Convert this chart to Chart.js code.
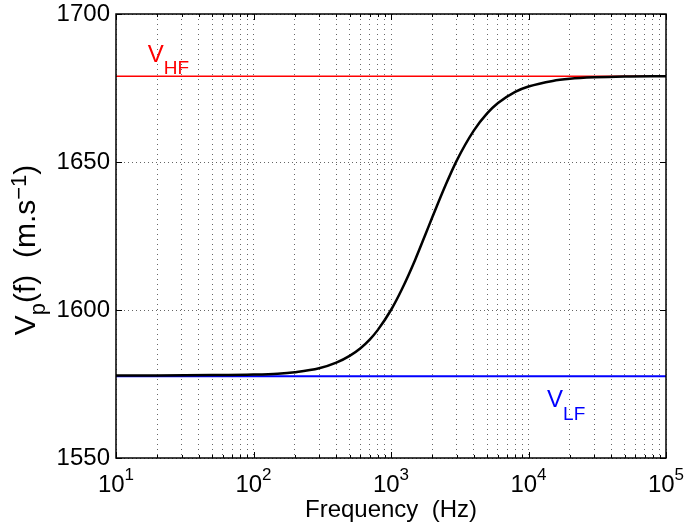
<!DOCTYPE html>
<html>
<head>
<meta charset="utf-8">
<script src="https://cdn.jsdelivr.net/npm/chart.js@4.4.0/dist/chart.umd.min.js"></script>
<style>
body { margin: 0; background: #fff; }
#wrap { width: 684px; height: 529px; }
</style>
</head>
<body>
<div id="wrap"><canvas id="vpChart" width="684" height="529"></canvas></div>
<script>
// values
const freqHz = [10, 20, 50, 100, 150, 200, 300, 400, 500, 600, 700, 800, 1000, 1200, 1500, 1800, 2000, 2500, 3000, 4000, 5000, 6000, 8000, 10000, 15000, 20000, 30000, 50000, 100000];
const vpCurve = [1577.9, 1577.9, 1578.0, 1578.2, 1578.5, 1579.0, 1580.3, 1582.2, 1584.5, 1587.1, 1590.0, 1593.2, 1600.0, 1607.0, 1617.0, 1626.1, 1631.4, 1642.3, 1650.4, 1660.6, 1666.4, 1669.9, 1673.7, 1675.5, 1677.4, 1678.1, 1678.6, 1678.9, 1679.0];
const vHF = 1679.0;
const vLF = 1577.6;
const xRange = [10, 100000];
const yRange = [1550, 1700];
const xDecades = [10, 100, 1000, 10000, 100000];
const xExponents = ['1', '2', '3', '4', '5'];
const hfLabelAt = [17, 1683.8];
const lfLabelAt = [13650, 1567.2];

const FONT = "'Liberation Sans', Arial, Helvetica, sans-serif";

// draw text made of pieces with their own size and vertical shift (sub/superscripts)
function richText(ctx, parts, x, y, align, color) {
    ctx.fillStyle = color || '#000';
    ctx.textBaseline = 'alphabetic';
    ctx.textAlign = 'left';
    let w = 0;
    parts.forEach(function(p) {
        ctx.font = p[1] + 'px ' + FONT;
        w += ctx.measureText(p[0]).width;
    });
    let cx = align === 'center' ? x - w / 2 : x;
    parts.forEach(function(p) {
        ctx.font = p[1] + 'px ' + FONT;
        ctx.fillText(p[0], cx, y + p[2]);
        cx += ctx.measureText(p[0]).width;
    });
}

const matlabAxes = {
    id: 'matlabAxes',
    afterDraw: function(chart) {
        const ctx = chart.ctx;
        const a = chart.chartArea;
        const xs = chart.scales.x;
        const ys = chart.scales.y;
        ctx.save();

        // inside tick marks
        ctx.strokeStyle = '#000';
        ctx.lineWidth = 1;
        xs.ticks.forEach(function(t) {
            const px = Math.round(xs.getPixelForValue(t.value)) + 0.5;
            const len = t.major ? 6 : 3;
            ctx.beginPath();
            ctx.moveTo(px, a.bottom); ctx.lineTo(px, a.bottom - len);
            ctx.moveTo(px, a.top); ctx.lineTo(px, a.top + len);
            ctx.stroke();
        });
        ys.ticks.forEach(function(t) {
            const py = Math.round(ys.getPixelForValue(t.value)) + 0.5;
            ctx.beginPath();
            ctx.moveTo(a.left, py); ctx.lineTo(a.left + 6, py);
            ctx.moveTo(a.right, py); ctx.lineTo(a.right - 6, py);
            ctx.stroke();
        });

        // box
        ctx.lineWidth = 1.5;
        ctx.strokeRect(a.left, a.top, a.right - a.left, a.bottom - a.top);

        // x tick labels 10^n
        xDecades.forEach(function(d, i) {
            const px = xs.getPixelForValue(d);
            richText(ctx, [['10', 24, 0], [xExponents[i], 17, -12]], px, 492, 'center');
        });

        // axis titles
        richText(ctx, [['Frequency  (Hz)', 24, 0]], (a.left + a.right) / 2, 517, 'center');
        ctx.save();
        ctx.translate(35, 250);
        ctx.rotate(-Math.PI / 2);
        richText(ctx, [['V', 30, 0], ['p', 22, 10], ['(f)  (m.s', 30, 0], ['\u22121', 22, -9], [')', 30, 0]], 0, 0, 'center');
        ctx.restore();

        // level labels
        richText(ctx, [['V', 24, 0], ['HF', 19, 12]], xs.getPixelForValue(hfLabelAt[0]), ys.getPixelForValue(hfLabelAt[1]), 'left', '#ff0000');
        richText(ctx, [['V', 24, 0], ['LF', 19, 13]], xs.getPixelForValue(lfLabelAt[0]), ys.getPixelForValue(lfLabelAt[1]), 'left', '#0000ff');

        ctx.restore();
    }
};

const ctx = document.getElementById('vpChart').getContext('2d');
new Chart(ctx, {
    type: 'line',
    data: {
        datasets: [{
            label: 'Vp(f)',
            data: freqHz.map(function(f, i) { return { x: f, y: vpCurve[i] }; }),
            borderColor: '#000000',
            borderWidth: 2.5,
            pointRadius: 0,
            cubicInterpolationMode: 'monotone',
            fill: false
        }, {
            label: 'VLF',
            data: [{ x: xRange[0], y: vLF }, { x: xRange[1], y: vLF }],
            borderColor: '#0000ff',
            borderWidth: 2,
            pointRadius: 0,
            fill: false
        }, {
            label: 'VHF',
            data: [{ x: xRange[0], y: vHF }, { x: xRange[1], y: vHF }],
            borderColor: '#ff0000',
            borderWidth: 1.5,
            pointRadius: 0,
            fill: false
        }]
    },
    options: {
        responsive: false,
        animation: false,
        events: [],
        layout: { padding: { top: 14, right: 18, left: 0, bottom: 0 } },
        plugins: {
            legend: { display: false },
            tooltip: { enabled: false }
        },
        scales: {
            x: {
                type: 'logarithmic',
                min: xRange[0],
                max: xRange[1],
                afterBuildTicks: function(scale) {
                    const t = [];
                    xDecades.forEach(function(d) {
                        for (let m = 1; m <= 9; m++) {
                            if (d * m <= xRange[1]) t.push({ value: d * m, major: m === 1 });
                        }
                    });
                    scale.ticks = t;
                },
                afterFit: function(scale) {
                    scale.height = 71;
                    scale.paddingLeft = 0;
                    scale.paddingRight = 0;
                },
                ticks: { display: false },
                grid: { color: 'rgba(0,0,0,0.6)', lineWidth: 1, drawTicks: false, borderDash: [1, 4] },
                border: { display: false, dash: [1, 4] }
            },
            y: {
                min: yRange[0],
                max: yRange[1],
                afterFit: function(scale) {
                    scale.width = 116;
                    scale.paddingTop = 0;
                    scale.paddingBottom = 0;
                },
                ticks: {
                    stepSize: 50,
                    padding: 6,
                    color: '#000',
                    font: { family: FONT, size: 24 },
                    callback: function(v) { return String(v); }
                },
                grid: { color: 'rgba(0,0,0,0.6)', lineWidth: 1, drawTicks: false, borderDash: [1, 3] },
                border: { display: false, dash: [1, 3] }
            }
        }
    },
    plugins: [matlabAxes]
});
</script>
</body>
</html>
